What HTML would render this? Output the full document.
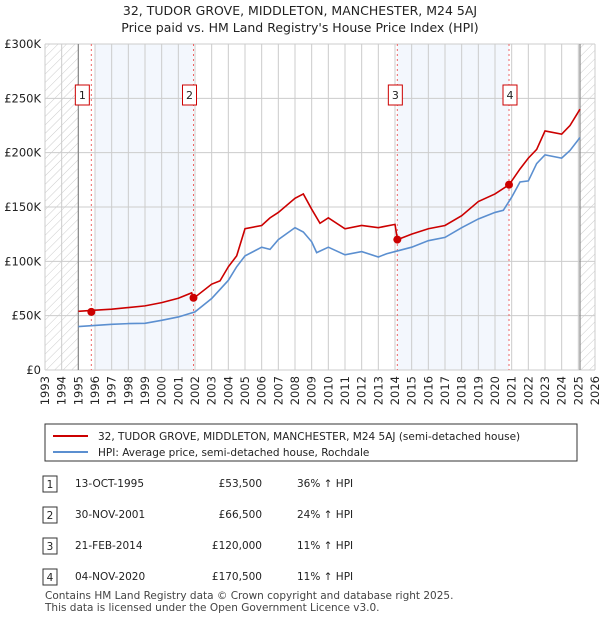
<!DOCTYPE html>
<html><head><meta charset="utf-8"><style>
body{margin:0;background:#fff;font-family:"Liberation Sans","DejaVu Sans",sans-serif;}
svg text{font-family:"DejaVu Sans","Liberation Sans",sans-serif;}
</style></head><body>
<svg width="600" height="620" xmlns="http://www.w3.org/2000/svg" id="svg">
<defs><pattern id="hatch" width="6" height="6" patternUnits="userSpaceOnUse" patternTransform="rotate(45)"><line x1="0" y1="0" x2="0" y2="6" stroke="#ccc" stroke-width="1"/></pattern></defs>
<text x="300" y="15" text-anchor="middle" font-size="12.5" fill="#222">32, TUDOR GROVE, MIDDLETON, MANCHESTER, M24 5AJ</text>
<text x="300" y="32" text-anchor="middle" font-size="12.5" fill="#222">Price paid vs. HM Land Registry's House Price Index (HPI)</text>
<g id="plot"></g>
<g>
<rect x="45" y="424" width="532" height="37" fill="#fff" stroke="#333"/>
<line x1="53" y1="436" x2="88" y2="436" stroke="#cc0000" stroke-width="2"/>
<text x="98" y="440" font-size="10.5" fill="#222">32, TUDOR GROVE, MIDDLETON, MANCHESTER, M24 5AJ (semi-detached house)</text>
<line x1="53" y1="452" x2="88" y2="452" stroke="#5b8fd0" stroke-width="2"/>
<text x="98" y="456" font-size="10.5" fill="#222">HPI: Average price, semi-detached house, Rochdale</text>
</g>
<g id="table" font-size="10.5" fill="#222"></g>
<text x="45" y="599" font-size="10.5" fill="#444">Contains HM Land Registry data © Crown copyright and database right 2025.</text>
<text x="45" y="611" font-size="10.5" fill="#444">This data is licensed under the Open Government Licence v3.0.</text>
</svg>
<script>
const hpiYears=[1995,1996,1997,1998,1999,2000,2001,2002,2003,2004,2004.5,2005,2006,2006.5,2007,2008,2008.5,2009,2009.3,2010,2011,2012,2013,2013.5,2014,2015,2016,2017,2018,2019,2020,2020.5,2021,2021.5,2022,2022.5,2023,2024,2024.5,2025.1];
const hpiValues=[40,41,42,42.7,43,45.7,48.8,53.5,65.8,82.5,95,105,113,111,120,131,127,118,108,113,106,109,104,107,109,113,119,122,131,139,145,147,159,173,174,190,198,195,202,214];
const paidYears=[1995,1996,1997,1998,1999,2000,2001,2001.8,2001.9,2002,2003,2003.5,2004,2004.5,2005,2006,2006.5,2007,2008,2008.5,2009,2009.5,2010,2011,2012,2013,2014,2014.15,2015,2016,2017,2018,2019,2020,2020.85,2021.5,2022,2022.5,2023,2024,2024.5,2025.1];
const paidValues=[54,55,56,57.5,59,62,66,71,66.5,67,79,82,95,105,130,133,140,145,158,162,148,135,140,130,133,131,134,120,125,130,133,142,155,162,170.5,185,195,203,220,217,225,240];
const saleLabels=["1","2","3","4"];
const saleYears=[1995.78,2001.91,2014.14,2020.84];
const salePrices=[53.5,66.5,120,170.5];
const saleDates=["13-OCT-1995","30-NOV-2001","21-FEB-2014","04-NOV-2020"];
const salePriceText=["£53,500","£66,500","£120,000","£170,500"];
const saleHpiText=["36% ↑ HPI","24% ↑ HPI","11% ↑ HPI","11% ↑ HPI"];
const yTicks=[0,50,100,150,200,250,300];
const yTickLabels=["£0","£50K","£100K","£150K","£200K","£250K","£300K"];
const xTicks=[];for(let y=1993;y<=2026;y++)xTicks.push(y);

const NS="http://www.w3.org/2000/svg";
const X0=45,X1=595,Y0=370,Y1=44;
const xs=y=>X0+(y-1993)/(2026-1993)*(X1-X0);
const ys=v=>Y0-v/300*(Y0-Y1);
const plot=document.getElementById('plot');
function mk(tag,attrs,parent){const e=document.createElementNS(NS,tag);for(const k in attrs)e.setAttribute(k,attrs[k]);(parent||plot).appendChild(e);return e;}
let e;
e=mk('rect',{x:X0,y:Y1,width:X1-X0,height:Y0-Y1,fill:'#fff'});


[[1996,2001.91],[2014.14,2020.84]].forEach(r=>{e=mk('rect',{x:xs(r[0]),y:Y1,width:xs(r[1])-xs(r[0]),height:Y0-Y1,fill:'#eef3fc',opacity:0.7});

});
[[1993,1995],[2025.1,2026]].forEach(r=>{e=mk('rect',{x:xs(r[0]),y:Y1,width:xs(r[1])-xs(r[0]),height:Y0-Y1,fill:'url(#hatch)'});

});
xTicks.forEach(y=>{e=mk('line',{x1:xs(y),x2:xs(y),y1:Y1,y2:Y0,stroke:'#ccc'});


e=mk('text',{x:0,y:0,'font-size':11.5,fill:'#222','text-anchor':'end',transform:`translate(${xs(y)+4},${Y0+6}) rotate(-90)`});e.textContent=y;

});
yTicks.forEach((v,i)=>{e=mk('line',{x1:X0,x2:X1,y1:ys(v),y2:ys(v),stroke:'#ccc'});


e=mk('text',{x:X0-4,y:ys(v)+4,'font-size':11.5,fill:'#222','text-anchor':'end'});e.textContent=yTickLabels[i];

});
[1995,2025.1].forEach(y=>{e=mk('line',{x1:xs(y),x2:xs(y),y1:Y1,y2:Y0,stroke:'#888','stroke-width':1.2});

});
saleYears.forEach((y,i)=>{e=mk('line',{x1:xs(y),x2:xs(y),y1:Y1,y2:Y0,stroke:'#e66','stroke-dasharray':'2,3'});


e=mk('rect',{x:xs(y)-14+(i%2?1:0)-0,y:85,width:14,height:20,fill:'#fff',stroke:'#c00'});
e.setAttribute('x',xs(y)-(i==0?16:(i==1?11:(i==2?9:6))));


e=mk('text',{x:+e.getAttribute('x')+7,y:99,'font-size':11,fill:'#222','text-anchor':'middle'});e.textContent=saleLabels[i];

});
function line(xa,va,col,name){e=mk('polyline',{points:xa.map((y,i)=>xs(y)+','+ys(va[i])).join(' '),fill:'none',stroke:col,'stroke-width':1.6});

}
line(hpiYears,hpiValues,'#5b8fd0','hpi-line');
line(paidYears,paidValues,'#cc0000','price-paid-line');
saleYears.forEach((y,i)=>{e=mk('circle',{cx:xs(y),cy:ys(salePrices[i]),r:4,fill:'#cc0000'});

});
const tb=document.getElementById('table');
saleLabels.forEach((l,i)=>{const yy=487+i*31;
e=mk('rect',{x:43,y:yy-11,width:14,height:16,fill:'#fff',stroke:'#333'},tb);


e=mk('text',{x:50,y:yy+1,'text-anchor':'middle'},tb);e.textContent=l;


e=mk('text',{x:75,y:yy},tb);e.textContent=saleDates[i];


e=mk('text',{x:262,y:yy,'text-anchor':'end'},tb);e.textContent=salePriceText[i];


e=mk('text',{x:297,y:yy},tb);e.textContent=saleHpiText[i];

});
</script>
</body></html>
